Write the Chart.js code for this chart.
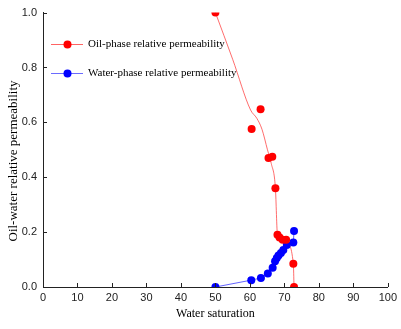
<!DOCTYPE html>
<html lang="en">
<head>
    <meta charset="UTF-8">
    <title>Relative permeability</title>
    <script type="text/javascript" src="https://cdn.jsdelivr.net/npm/chart.js@4.4.1/dist/chart.umd.min.js"></script>
    <style>
        html, body { margin: 0; padding: 0; background: #fff; }
        #wrap { width: 401px; height: 329px; }
    </style>
</head>
<body>
<div id="wrap"><canvas id="chart"></canvas></div>

<script type="text/javascript">
    // measured points
    var oilX = [50, 60.5, 63.1, 65.4, 66.5, 67.4, 68.0, 68.6, 69.5, 70.5, 72.6, 72.8];
    var oilY = [1.0, 0.576, 0.648, 0.47, 0.475, 0.36, 0.19, 0.18, 0.172, 0.172, 0.085, 0.0];
    var waterX = [50, 60.4, 63.2, 65.2, 66.6, 67.3, 67.8, 68.3, 69.0, 69.7, 70.7, 72.6, 72.8];
    var waterY = [0.0, 0.025, 0.033, 0.049, 0.07, 0.094, 0.106, 0.115, 0.124, 0.135, 0.153, 0.162, 0.204];
    // fitted oil curve
    var oilFitX = [50, 55, 60.2, 62, 63.5, 65.1, 66.2, 67.4, 68.0, 69.5, 70.5, 72.6, 72.8];
    var oilFitY = [1.0, 0.83, 0.645, 0.615, 0.575, 0.5, 0.45, 0.36, 0.19, 0.172, 0.165, 0.085, 0.0];

    var xTicks = [0, 10, 20, 30, 40, 50, 60, 70, 80, 90, 100];
    var yTicks = [0, 0.2, 0.4, 0.6, 0.8, 1.0];

    var seriesNames = ['Oil-phase relative permeability', 'Water-phase relative permeability'];
    var yTitle = 'Oil-water relative permeability';

    function pts(xs, ys) {
        let out = [];
        for (let i = 0; i < xs.length; i++) {
            out.push({x: xs[i], y: ys[i]});
        }
        return out;
    }

    // ticks pointing into the plot, legend inside the plot, y title
    var innerBits = {
        id: 'innerBits',
        afterDraw: function (chart) {
            var ctx = chart.ctx, a = chart.chartArea;
            var xs = chart.scales.x, ys = chart.scales.y;
            ctx.save();
            ctx.strokeStyle = '#222';
            ctx.lineWidth = 1;
            ctx.beginPath();
            xTicks.forEach(function (v) {
                var p = Math.round(xs.getPixelForValue(v)) + 0.5;
                ctx.moveTo(p, a.bottom);
                ctx.lineTo(p, a.bottom - 4);
            });
            yTicks.forEach(function (v) {
                var p = Math.round(ys.getPixelForValue(v)) + 0.5;
                ctx.moveTo(a.left, p);
                ctx.lineTo(a.left + 4, p);
            });
            ctx.stroke();

            var cols = [['rgba(255,60,60,0.8)', '#ff0000'], ['rgba(70,70,255,0.8)', '#0000ff']];
            var rows = [44, 73];
            ctx.font = '11px "Liberation Serif", "Times New Roman", serif';
            ctx.textBaseline = 'middle';
            for (let i = 0; i < 2; i++) {
                var yy = rows[i] + 0.5;
                ctx.strokeStyle = cols[i][0];
                ctx.beginPath();
                ctx.moveTo(51, yy);
                ctx.lineTo(83, yy);
                ctx.stroke();
                ctx.fillStyle = cols[i][1];
                ctx.beginPath();
                ctx.arc(67.5, yy, 4, 0, Math.PI * 2);
                ctx.fill();
                ctx.fillStyle = '#000';
                ctx.fillText(seriesNames[i], 88, rows[i]);
            }

            // y axis title, sits a bit below the middle in the original
            ctx.translate(14, 161);
            ctx.rotate(-Math.PI / 2);
            ctx.font = '13px "Liberation Serif", "Times New Roman", serif';
            ctx.textAlign = 'center';
            ctx.fillText(yTitle, 0, 0);
            ctx.restore();
        }
    };

    new Chart(document.getElementById('chart').getContext('2d'), {
        type: 'scatter',
        data: {
            datasets: [
                {
                    label: 'oil fit',
                    data: pts(oilFitX, oilFitY),
                    showLine: true,
                    borderColor: 'rgba(255,60,60,0.75)',
                    borderWidth: 1,
                    pointRadius: 0,
                    cubicInterpolationMode: 'monotone',
                    order: 3
                },
                {
                    label: seriesNames[1],
                    data: pts(waterX, waterY),
                    showLine: true,
                    borderColor: 'rgba(60,60,255,0.8)',
                    borderWidth: 1,
                    backgroundColor: '#0000ff',
                    pointBackgroundColor: '#0000ff',
                    pointBorderWidth: 0,
                    pointRadius: 4,
                    order: 2
                },
                {
                    label: seriesNames[0],
                    data: pts(oilX, oilY),
                    backgroundColor: '#ff0000',
                    pointBackgroundColor: '#ff0000',
                    pointBorderWidth: 0,
                    pointRadius: 4,
                    order: 1
                }
            ]
        },
        options: {
            responsive: true,
            maintainAspectRatio: false,
            animation: false,
            layout: {padding: {top: 8, right: 11, left: 0, bottom: 0}},
            plugins: {
                legend: {display: false},
                tooltip: {enabled: false}
            },
            scales: {
                x: {
                    type: 'linear',
                    min: 0,
                    max: 100,
                    afterFit: function (s) { s.height = 42; },
                    afterBuildTicks: function (s) { s.ticks = xTicks.map(v => ({value: v})); },
                    grid: {display: false, drawTicks: false},
                    border: {display: true, color: '#222', width: 1},
                    ticks: {
                        color: '#222',
                        padding: 4,
                        maxRotation: 0,
                        font: {family: '"Liberation Sans", Arial, sans-serif', size: 11}
                    },
                    title: {
                        display: true,
                        text: 'Water saturation',
                        color: '#000',
                        padding: {top: 0, bottom: 8},
                        font: {family: '"Liberation Serif", "Times New Roman", serif', size: 12}
                    }
                },
                y: {
                    type: 'linear',
                    min: 0,
                    max: 1,
                    afterFit: function (s) { s.width = 43; },
                    afterBuildTicks: function (s) { s.ticks = yTicks.map(v => ({value: v})); },
                    grid: {display: false, drawTicks: false},
                    border: {display: true, color: '#222', width: 1},
                    ticks: {
                        color: '#222',
                        padding: 6,
                        font: {family: '"Liberation Sans", Arial, sans-serif', size: 11},
                        callback: function (v) { return v.toFixed(1); }
                    }
                }
            }
        },
        plugins: [innerBits]
    });
</script>
</body>
</html>
